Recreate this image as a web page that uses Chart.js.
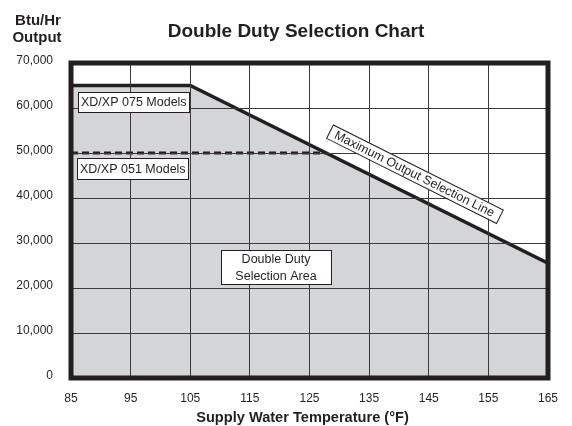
<!DOCTYPE html>
<html>
<head>
<meta charset="utf-8">
<script src="https://cdn.jsdelivr.net/npm/chart.js@4.4.1/dist/chart.umd.min.js"></script>
<style>
  html, body { margin: 0; padding: 0; background: #fff; }
  #wrap { width: 572px; height: 426px; }
</style>
</head>
<body>
<div id="wrap"><canvas id="dutyChart"></canvas></div>
<script>
const tempTicks = [85, 95, 105, 115, 125, 135, 145, 155, 165];
const outputTicks = [0, 10000, 20000, 30000, 40000, 50000, 60000, 70000];

// Maximum output selection line (075 models), area below it is shaded
const maxLineTemps = [85, 105, 165];
const maxLineOutput = [65000, 65000, 25500];

// 051 models cap, dashed, runs until it meets the max line
const model051Temps = [85, 127.8];
const model051Output = [50000, 50000];

const FONT = "'Liberation Sans', Arial, Helvetica, sans-serif";
const INK = '#231f20';

function toPoints(xs, ys) {
  return xs.map((x, i) => ({ x, y: ys[i] }));
}

function drawBox(ctx, x, y, w, h, lines, size, align) {
  ctx.fillStyle = '#fff';
  ctx.fillRect(x, y, w, h);
  ctx.strokeStyle = INK;
  ctx.lineWidth = 1;
  ctx.strokeRect(x + 0.5, y + 0.5, w, h);
  ctx.fillStyle = INK;
  ctx.font = `${size}px ${FONT}`;
  ctx.textBaseline = 'middle';
  ctx.textAlign = align;
  const lh = h / lines.length;
  lines.forEach((t, i) => {
    const tx = align === 'left' ? x + 3 : x + w / 2;
    ctx.fillText(t, tx, y + lh * i + lh / 2 + 1);
  });
}

const frameAndLabels = {
  id: 'frameAndLabels',
  afterDraw(chart) {
    const { ctx, chartArea: a } = chart;
    ctx.save();

    // heavy frame round the plot
    ctx.strokeStyle = INK;
    ctx.lineWidth = 5;
    ctx.strokeRect(a.left, a.top, a.right - a.left, a.bottom - a.top);

    drawBox(ctx, 78, 92, 111, 20, ['XD/XP 075 Models'], 12.5, 'left');
    drawBox(ctx, 77, 158, 111, 21, ['XD/XP 051 Models'], 12.5, 'left');
    drawBox(ctx, 221, 250, 110, 34, ['Double Duty', 'Selection Area'], 12.5, 'center');

    // rotated label along the max line
    ctx.save();
    ctx.translate(414.5, 174);
    ctx.rotate(26.6 * Math.PI / 180);
    drawBox(ctx, -95, -8, 190, 15, ['Maximum Output Selection Line'], 12.5, 'center');
    ctx.restore();

    // titles
    ctx.fillStyle = INK;
    ctx.textBaseline = 'middle';
    ctx.textAlign = 'center';
    ctx.font = `bold 19px ${FONT}`;
    ctx.fillText('Double Duty Selection Chart', 296, 32);
    ctx.font = `bold 15px ${FONT}`;
    ctx.fillText('Btu/Hr', 38, 21);
    ctx.fillText('Output', 37, 38);
    ctx.font = `bold 14.6px ${FONT}`;
    ctx.fillText('Supply Water Temperature (°F)', 302.5, 418);

    ctx.restore();
  }
};

const chart = new Chart(document.getElementById('dutyChart'), {
  type: 'line',
  data: {
    datasets: [{
      label: 'Maximum Output Selection Line',
      data: toPoints(maxLineTemps, maxLineOutput),
      borderColor: INK,
      borderWidth: 3.5,
      backgroundColor: '#d4d5d7',
      fill: 'origin',
      pointRadius: 0,
      tension: 0
    }, {
      label: 'XD/XP 051 Models',
      data: toPoints(model051Temps, model051Output),
      borderColor: INK,
      borderWidth: 3,
      borderDash: [7, 4],
      fill: false,
      pointRadius: 0
    }]
  },
  options: {
    responsive: true,
    maintainAspectRatio: false,
    animation: false,
    layout: { padding: { left: 0, right: 24, top: 63, bottom: 0 } },
    plugins: {
      legend: { display: false },
      tooltip: { enabled: false },
      filler: { drawTime: 'beforeDatasetsDraw' }
    },
    scales: {
      x: {
        type: 'linear',
        min: 85,
        max: 165,
        afterBuildTicks: s => { s.ticks = tempTicks.map(v => ({ value: v })); },
        afterFit: s => { s.height = 48; },
        border: { display: false },
        grid: { color: '#3a3a3a', lineWidth: 1, drawTicks: false, z: 1 },
        ticks: {
          padding: 13,
          autoSkip: false,
          maxRotation: 0,
          color: INK,
          font: { family: FONT, size: 12 },
          callback: v => String(v)
        }
      },
      y: {
        type: 'linear',
        min: 0,
        max: 70000,
        afterBuildTicks: s => { s.ticks = outputTicks.map(v => ({ value: v })); },
        afterFit: s => { s.width = 71; },
        border: { display: false },
        grid: { color: '#3a3a3a', lineWidth: 1, drawTicks: false, z: 1 },
        ticks: {
          padding: 18,
          labelOffset: -2,
          color: INK,
          font: { family: FONT, size: 12 },
          callback: v => v.toLocaleString('en-US')
        }
      }
    }
  },
  plugins: [frameAndLabels]
});
</script>
</body>
</html>
